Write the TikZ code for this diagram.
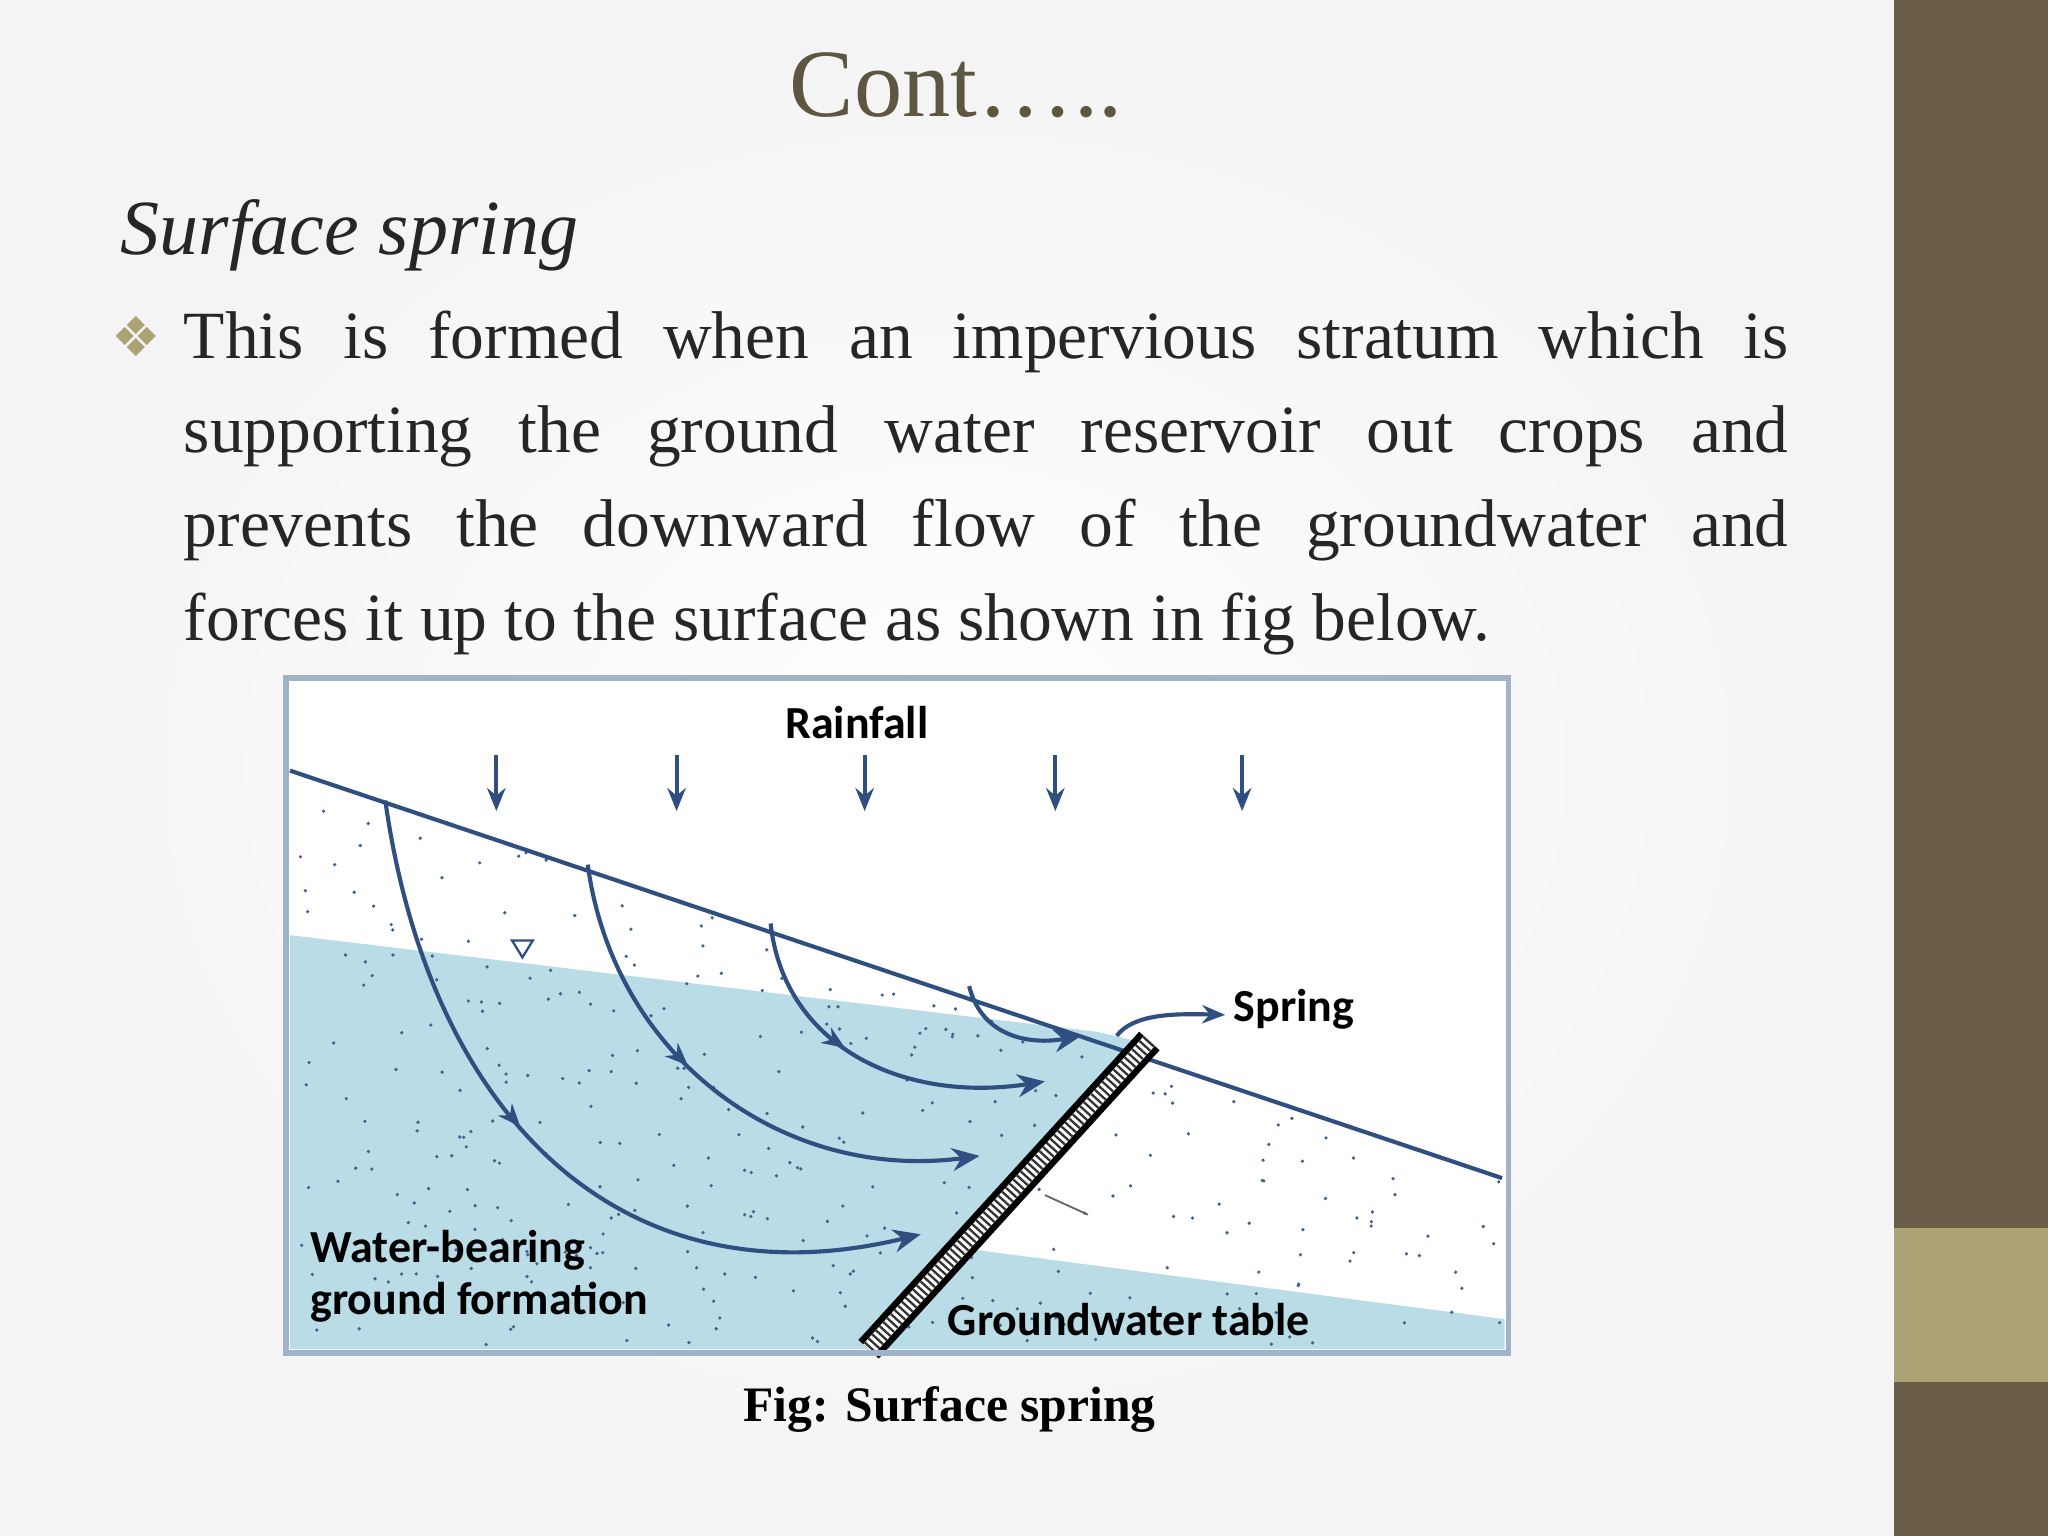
\documentclass[tikz,border=0pt]{standalone}
\usepackage{fontspec}
\setmainfont{Liberation Serif}
\newfontfamily\figfont{Carlito}
\newfontfamily\symfont{DejaVu Sans}
\usetikzlibrary{arrows.meta,decorations.markings}
\definecolor{olive}{HTML}{6B5E48}
\definecolor{tan}{HTML}{ABA276}
\definecolor{titlec}{HTML}{5C5642}
\definecolor{waterc}{HTML}{B9DCE7}
\definecolor{flowc}{HTML}{2F4F80}
\definecolor{framec}{HTML}{9FB4C8}
\tikzset{
  flow/.style={flowc, line width=0.9pt},
  midarrow/.style={postaction={decorate},decoration={markings,mark=at position #1 with {\arrow{Stealth[length=5pt,width=4pt]}}}},
  rain/.style={flowc, line width=0.9pt, -{Stealth[length=5pt,width=4pt]}},
  figlabel/.style={font=\figfont\bfseries\fontsize{10}{11}\selectfont, text=black, inner sep=0pt},
}
\begin{document}
\begin{tikzpicture}[x=0.01cm,y=-0.01cm]
\useasboundingbox (0,0) rectangle (1568,1176);
\shade[inner color=white, outer color=gray!9] (0,0) rectangle (1450,1176);
\fill[olive] (1450,0) rectangle (1568,1176);
\fill[tan] (1450,940) rectangle (1568,1058);
\node[text=titlec, font=\fontsize{21}{24}\selectfont] (title) at (732,65) {Cont…..};
\node[anchor=west, text=black!85, font=\itshape\fontsize{17}{19}\selectfont] (sub) at (80,180) {Surface spring};
\node[text=tan, font=\symfont\fontsize{12}{13}\selectfont] (bul) at (104,258) {❖};
\node[anchor=north west, text width=12.28cm, align=justify, inner sep=0pt, text=black!85,
  font=\fontsize{14.7}{20.5}\selectfont] (body) at (140,237)
  {This is formed when an impervious stratum which is\linebreak supporting the ground water reservoir out crops and\linebreak prevents the downward flow of the groundwater and\linebreak forces it up to the surface as shown in fig below.};
% figure
\fill[white] (219,519) rectangle (1155,1036);
\fill[waterc] (222,716) -- (840,790) -- (870,797) -- (665,1033) -- (222,1033) -- cycle;
\fill[waterc] (732,955) -- (1152,1010) -- (1152,1033) -- (670,1033) -- cycle;
\begin{scope}
\clip (222,590) -- (1150,902) -- (1152,1033) -- (222,1033) -- cycle;
\pgfmathsetseed{7}
\foreach \i in {1,...,520}{
  \pgfmathsetmacro{\px}{230+920*rnd}
  \pgfmathsetmacro{\py}{600+430*rnd}
  \fill[flowc!90] (\px,\py) circle (1.4);
}
\end{scope}
\draw[flowc, line width=0.9pt] (222,590) -- (1150,902);
\draw[black!60, line width=0.4pt] (800,915) -- (833,930);
\draw[flowc, line width=0.5pt] (392,720) -- (408,720) -- (400,733) -- cycle;
% flows
\draw[flow, midarrow=0.45, -{Stealth[length=6pt,width=5pt]}] (295,613) .. controls (330,860) and (480,1000) .. (705,945);
\draw[flow, midarrow=0.42, -{Stealth[length=6pt,width=5pt]}] (450,662) .. controls (470,810) and (600,905) .. (750,885);
\draw[flow, midarrow=0.42, -{Stealth[length=6pt,width=5pt]}] (590,707) .. controls (600,800) and (690,845) .. (800,828);
\draw[flow, -{Stealth[length=6pt,width=5pt]}] (742,755) .. controls (752,795) and (790,800) .. (828,793);
% dike
\draw[black, line width=6pt] (880,797) -- (665,1033);
\draw[white, line width=3.2pt] (880,797) -- (665,1033);
\draw[black!80, line width=3.2pt, dash pattern=on 0.5pt off 0.7pt] (880,797) -- (665,1033);
\node[figlabel, anchor=west] (spring) at (944,773) {Spring};
\draw[flow, -{Stealth[length=5pt,width=4pt]}] (855,793) .. controls (868,776) and (900,776) .. (938,777);
\node[figlabel] (rainfall) at (656,553) {Rainfall};
\foreach \x/\n in {380/a,518/b,662/c,808/d,951/e}{
  \coordinate (r\n1) at (\x,578); \coordinate (r\n2) at (\x,621);
  \draw[rain] (r\n1) -- (r\n2);
}
\node[figlabel, anchor=west] (wb1) at (237,957) {Water-bearing};
\node[figlabel, anchor=west] (wb2) at (237,997) {ground formation};
\node[figlabel, anchor=west] (gwt) at (725,1010) {Groundwater table};
\draw[framec, line width=1.2pt] (219,519) rectangle (1155,1036);
\node[font=\bfseries\fontsize{10.8}{13}\selectfont] (cap) at (727,1079) {Fig: Surface spring};
\end{tikzpicture}
\end{document}
